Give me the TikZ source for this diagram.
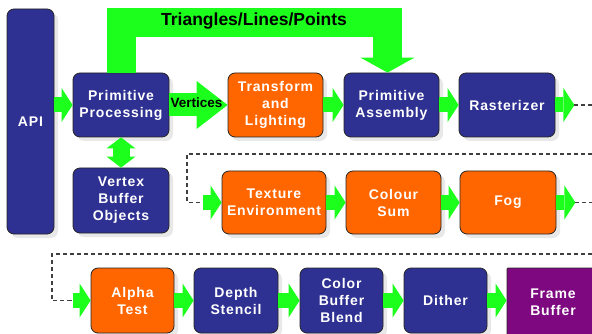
\documentclass[tikz,border=0pt]{standalone}
\usepackage{fontspec}
\setmainfont{Liberation Sans}
\newfontfamily\boxfont{Liberation Sans}[LetterSpace=6]
\usetikzlibrary{arrows.meta,shadows,calc}

\definecolor{boxblue}{HTML}{2E3192}
\definecolor{boxorange}{HTML}{FF6600}
\definecolor{boxpurple}{HTML}{7D0880}
\definecolor{flowgreen}{HTML}{1CFF1C}

\tikzset{
  stage/.style={rounded corners=7pt, draw=black!85, line width=0.8pt,
    text=white, align=center, inner sep=0pt,
    font=\boxfont\bfseries\fontsize{14pt}{17pt}\selectfont,
    general shadow={fill=black!9, shadow xshift=4pt, shadow yshift=-4pt}},
  bluestage/.style={stage, fill=boxblue},
  orangestage/.style={stage, fill=boxorange},
  purplestage/.style={stage, fill=boxpurple, rounded corners=1pt},
  flow/.style={draw=flowgreen, line width=15pt,
    -{Triangle[length=11pt,width=34pt,line width=0pt]}},
  loopline/.style={draw=black!75, line width=1.1pt, dash pattern=on 4pt off 3pt},
  caption/.style={text=black, inner sep=0pt, font=\bfseries}
}

\begin{document}
\begin{tikzpicture}[x=1pt,y=-1pt]
\useasboundingbox (0,0) rectangle (592,334);

% ---- pipeline stages ----
\node[bluestage, minimum width=47pt, minimum height=225pt] (api) at (30.5,121.5) {API};
\node[bluestage, minimum width=96pt, minimum height=64pt] (pp) at (121,105) {Primitive\\Processing};
\node[orangestage, minimum width=95pt, minimum height=64pt] (tl) at (275.5,105) {Transform\\and\\Lighting};
\node[bluestage, minimum width=95pt, minimum height=64pt] (pa) at (391.5,105) {Primitive\\Assembly};
\node[bluestage, minimum width=96pt, minimum height=64pt] (ras) at (507,105) {Rasterizer};
\node[bluestage, minimum width=96pt, minimum height=65pt] (vbo) at (121,200.5) {Vertex\\Buffer\\Objects};

\node[orangestage, minimum width=104pt, minimum height=63pt] (tex) at (274,202.5) {Texture\\Environment};
\node[orangestage, minimum width=95pt, minimum height=63pt] (cs) at (393.5,202.5) {Colour\\Sum};
\node[orangestage, minimum width=96pt, minimum height=63pt] (fog) at (508,202.5) {Fog};

\node[orangestage, minimum width=83pt, minimum height=65pt] (at) at (132.5,300.5) {Alpha\\Test};
\node[bluestage, minimum width=84pt, minimum height=65pt] (ds) at (236,300.5) {Depth\\Stencil};
\node[bluestage, minimum width=83pt, minimum height=65pt] (cbb) at (341.5,300.5) {Color\\Buffer\\Blend};
\node[bluestage, minimum width=83pt, minimum height=65pt] (dith) at (445.5,300.5) {Dither};
\node[purplestage, minimum width=92pt, minimum height=68pt] (fb) at (553,302) {Frame\\Buffer};

% ---- big feed-forward arrow over the first row ----
\coordinate (patip) at ($(pa.north)+(-4,0)$);
\coordinate (topbar) at (0,23);
\draw[draw=flowgreen, line width=29pt, line join=miter,
      -{Triangle[length=15pt,width=54pt,line width=0pt]}]
  (pp.north) -- (pp.north |- topbar) -- (patip |- topbar) -- (patip);
\node[caption, font=\bfseries\fontsize{17.5pt}{20pt}\selectfont] (tlp) at (254,21) {Triangles/Lines/Points};

% ---- first row ----
\draw[flow] (api.east |- pp.west) -- (pp.west);
\draw[draw=flowgreen, line width=23pt,
      -{Triangle[length=31pt,width=48pt,line width=0pt]}] (pp.east) -- (tl.west);
\node[caption, font=\bfseries\fontsize{13.5pt}{16pt}\selectfont] (vtx) at (196.5,103) {Vertices};
\draw[flow] (tl.east) -- (pa.west);
\draw[flow] (pa.east) -- (ras.west);
\coordinate (r1out) at ($(ras.east)+(19,0)$);
\coordinate (r1edge) at (592,105);
\draw[flow] (ras.east) -- (r1out);
\draw[loopline] (r1out) -- (r1edge);

% ---- vertex buffer link ----
\draw[draw=flowgreen, line width=17pt,
      {Triangle[length=11pt,width=29pt,line width=0pt]}-{Triangle[length=11pt,width=29pt,line width=0pt]}]
  (pp.south) -- (vbo.north);

% ---- second row ----
\coordinate (r2a) at (592,154);
\coordinate (r2b) at (187,154);
\coordinate (r2c) at (187,202.5);
\coordinate (r2d) at (203,202.5);
\draw[loopline] (r2a) -- (r2b) -- (r2c) -- (r2d);
\draw[flow] (r2d) -- (tex.west);
\draw[flow] (tex.east) -- (cs.west);
\draw[flow] (cs.east) -- (fog.west);
\coordinate (r2out) at ($(fog.east)+(19,0)$);
\coordinate (r2edge) at (592,202.5);
\draw[flow] (fog.east) -- (r2out);
\draw[loopline] (r2out) -- (r2edge);

% ---- third row ----
\coordinate (r3a) at (592,254);
\coordinate (r3b) at (52,254);
\coordinate (r3c) at (52,300.5);
\coordinate (r3d) at (73,300.5);
\draw[loopline] (r3a) -- (r3b) -- (r3c) -- (r3d);
\draw[flow] (r3d) -- (at.west);
\draw[flow] (at.east) -- (ds.west);
\draw[flow] (ds.east) -- (cbb.west);
\draw[flow] (cbb.east) -- (dith.west);
\draw[flow] (dith.east) -- (dith.east -| fb.west);
\end{tikzpicture}
\end{document}
